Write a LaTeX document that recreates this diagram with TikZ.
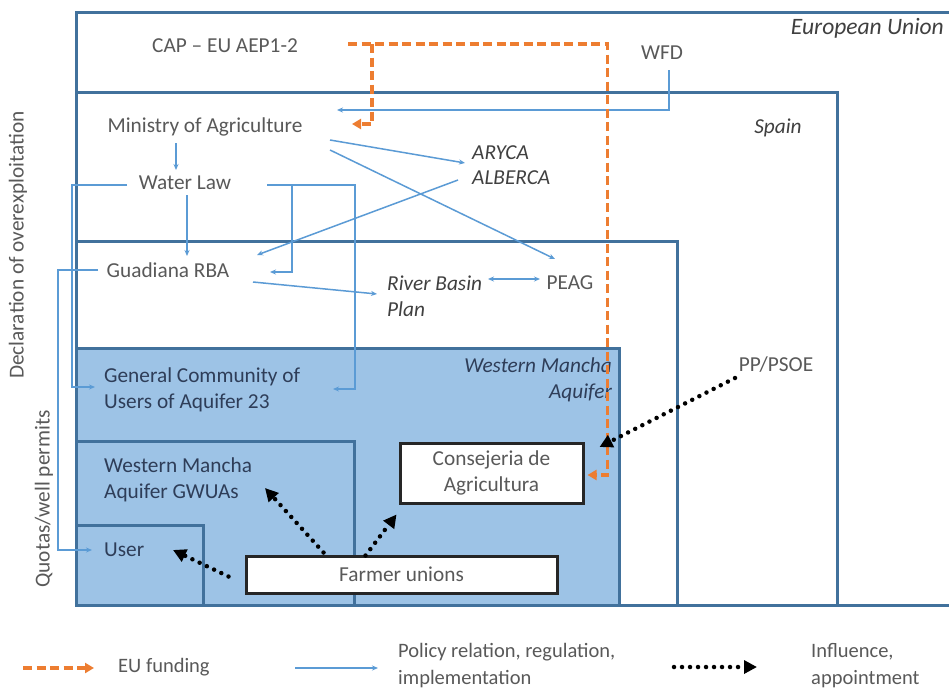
\documentclass[tikz,border=0pt]{standalone}
\usepackage{fontspec}
\setmainfont{Carlito}
\usetikzlibrary{calc,arrows.meta}
\definecolor{boxblue}{HTML}{41719C}
\definecolor{fillblue}{HTML}{9DC3E6}
\definecolor{lineblue}{HTML}{5B9BD5}
\definecolor{euorange}{HTML}{ED7D31}
\definecolor{txtgray}{HTML}{595959}
\definecolor{txtdark}{HTML}{404040}
\definecolor{txtnavy}{HTML}{2E3D58}
\begin{document}
\begin{tikzpicture}[x=1pt,y=-1pt,
  frame/.style={draw=boxblue,line width=3pt},
  lbl/.style={inner sep=0pt,text=txtgray,font=\fontsize{21.3}{25.5}\selectfont},
  ital/.style={inner sep=0pt,text=txtdark,font=\fontsize{21.3}{25.5}\selectfont\itshape},
  navy/.style={inner sep=0pt,text=txtnavy,font=\fontsize{21.3}{25.5}\selectfont},
  navyit/.style={inner sep=0pt,text=txtnavy,font=\fontsize{21.3}{25.5}\selectfont\itshape},
  leg/.style={inner sep=0pt,text=txtgray,font=\fontsize{20.5}{27}\selectfont},
  pol/.style={draw=lineblue,line width=1.5pt,-{Stealth[length=6pt,width=5pt]}},
  polboth/.style={draw=lineblue,line width=1.5pt,{Stealth[length=6pt,width=5pt]}-{Stealth[length=6pt,width=5pt]}},
  eufund/.style={draw=euorange,line width=3.2pt,dash pattern=on 9pt off 4.5pt,-{Triangle[length=9pt,width=10pt]}},
  infl/.style={draw=black,line width=4.5pt,dash pattern=on 0pt off 8pt,line cap=round,-{Triangle[length=13pt,width=13pt]}},
  cbox/.style={draw=black!85,line width=3pt,fill=white,inner sep=0pt,text=txtgray,font=\fontsize{21.3}{25.5}\selectfont,align=center}]
\useasboundingbox[fill=white] (0,0) rectangle (949,691);
% frames
\draw[frame] (949,12) -- (76,12) -- (76,605) -- (949,605);
\draw[frame] (76,92) rectangle (837,605);
\draw[frame] (76,241) rectangle (677,605);
\draw[frame,fill=fillblue] (76,348) rectangle (619,605);
\draw[frame] (76,441) rectangle (354,605);
\draw[frame] (76,525) rectangle (203,605);
% labels
\node[lbl] (cap) at (225,46) {CAP – EU AEP1-2};
\node[lbl] (wfd) at (662,53) {WFD};
\node[ital,anchor=east,font=\fontsize{23.5}{28}\selectfont\itshape] (eu) at (944,28) {European Union};
\node[ital] (spain) at (778,128) {Spain};
\node[lbl] (min) at (205,127) {Ministry of Agriculture};
\node[lbl] (wl) at (185,183) {Water Law};
\node[ital,align=left,anchor=west] (aryca) at (472,165) {ARYCA\\ALBERCA};
\node[lbl] (grba) at (168,270) {Guadiana RBA};
\node[ital,align=left,anchor=west] (rbp) at (387,296) {River Basin\\Plan};
\node[lbl] (peag) at (570,283) {PEAG};
\node[lbl] (pp) at (776,365) {PP/PSOE};
\node[navyit,align=right,anchor=east] (wma) at (612,380) {Western Mancha\\Aquifer};
\node[navy,align=left,anchor=west] (gc) at (104,390) {General Community of\\Users of Aquifer 23};
\node[navy,align=left,anchor=west] (gwua) at (104,480) {Western Mancha\\Aquifer GWUAs};
\node[navy,anchor=west] (user) at (104,550) {User};
\node[cbox,minimum width=183pt,minimum height=60pt] (cons) at (491.5,473) {Consejeria de\\Agricultura};
\node[cbox,minimum width=311pt,minimum height=37pt] (farm) at (401.5,574.5) {Farmer unions};
\node[lbl,rotate=90] (decl) at (18,245) {Declaration of overexploitation};
\node[lbl,rotate=90] (quota) at (44,499) {Quotas/well permits};
% policy connectors
\coordinate (wfdend) at (337,110);
\draw[pol] ($(wfd.center)+(7,17)$) |- (wfdend);
\draw[pol] ($(min.center)+(-29,16)$) -- ($(wl.center)+(-9,-13)$);
\draw[pol] ($(min.center)+(125,13)$) -- ($(aryca.west)+(-7,-2)$);
\draw[pol] ($(min.center)+(125,23)$) -- ($(peag.center)+(-15,-24)$);
\draw[pol] ($(aryca.west)+(-14,15)$) -- ($(grba.center)+(89,-15)$);
\draw[pol] ($(wl.center)+(82,2)$) -| ($(gc.west)+(251,-1)$) -- ($(gc.west)+(229,-1)$);
\draw[pol] ($(wl.center)+(107,2)$) |- ($(grba.center)+(102,2)$);
\draw[pol] ($(wl.center)+(2,12)$) -- ($(grba.center)+(19,-14)$);
\draw[pol] ($(wl.center)+(-58,2)$) -- ($(wl.center)+(-113,2)$) |- ($(gc.west)+(-9,-3)$);
\draw[pol] ($(grba.center)+(-70,0)$) -- ($(grba.center)+(-110,0)$) |- ($(user.west)+(-12,0)$);
\draw[pol] ($(grba.center)+(85,12)$) -- ($(rbp.west)+(-10,-2)$);
\draw[polboth] ($(peag.center)+(-82,-4)$) -- ($(peag.center)+(-30,-4)$);
% EU funding
\draw[eufund] ($(cap.center)+(123,-2)$) -| ($(cons.east)+(23,2)$) -- ($(cons.east)+(3,2)$);
\draw[eufund] ($(cap.center)+(147,-2)$) |- ($(min.center)+(147,-3)$);
% influence
\draw[infl] ($(pp.center)+(-41,13)$) -- ($(cons.east)+(15,-26)$);
\draw[infl] ($(farm.west)+(-16,2)$) -- ($(user.west)+(69,0)$);
\draw[infl] ($(farm.center)+(-78,-22)$) -- ($(gwua.west)+(161,8)$);
\draw[infl] ($(farm.center)+(-36,-19)$) -- ($(cons.south west)+(-2,10)$);
% legend
\node[leg,anchor=west] (leu) at (118,667) {EU funding};
\node[leg,anchor=west,align=left] (lpol) at (398,666) {Policy relation, regulation,\\implementation};
\node[leg,anchor=west,align=left] (linfl) at (811,666) {Influence,\\appointment};
\draw[eufund] ($(leu.west)+(-95,1)$) -- ($(leu.west)+(-24,1)$);
\draw[pol] ($(lpol.west)+(-103,2)$) -- ($(lpol.west)+(-20,2)$);
\draw[infl] ($(linfl.west)+(-137,1)$) -- ($(linfl.west)+(-54,1)$);
\end{tikzpicture}
\end{document}
